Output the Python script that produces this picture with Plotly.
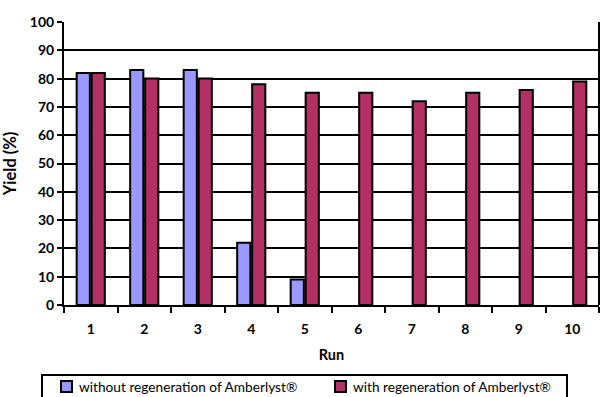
import plotly.graph_objects as go

runs = ["1", "2", "3", "4", "5", "6", "7", "8", "9", "10"]
without_regen = [82, 83, 83, 22, 9, None, None, None, None, None]
with_regen = [82, 80, 80, 78, 75, 75, 72, 75, 76, 79]
series_names = ["without regeneration of Amberlyst®", "with regeneration of Amberlyst®"]
series_colors = ["#9999FF", "#B23063"]

FONT = "Lato"
L, R, T, B = 64, 1, 22, 92
W, H = 600, 397
PW, PH = W - L - R, H - T - B


def px_x(px):
    return (px - L) / PW


def px_y(py):
    return (H - B - py) / PH


fig = go.Figure()
for name, vals, col in zip(series_names, [without_regen, with_regen], series_colors):
    fig.add_trace(go.Bar(
        x=runs, y=vals, name=name,
        marker=dict(color=col, line=dict(color="black", width=2)),
    ))

fig.update_layout(
    width=W, height=H,
    margin=dict(l=L, r=R, t=T, b=B, autoexpand=False),
    paper_bgcolor="white", plot_bgcolor="white",
    barmode="group", bargap=0.44, bargroupgap=0.12,
    font=dict(family=FONT, size=13, color="black"),
    showlegend=False,
)
fig.update_xaxes(
    type="category", showline=True, linecolor="black", linewidth=2,
    ticks="outside", tickcolor="black", ticklen=6, tickwidth=2,
    tickson="boundaries", ticklabelstandoff=10,
    tickfont=dict(family=FONT, size=14, color="black", weight="bold"),
    title=dict(text="<b>Run</b>", font=dict(family=FONT, size=14.5), standoff=14),
)
fig.update_yaxes(
    range=[0, 100], dtick=10, showline=True, linecolor="black", linewidth=2,
    showgrid=True, gridcolor="black", gridwidth=2, zeroline=False,
    ticks="outside", tickcolor="black", ticklen=5, tickwidth=2,
    tickfont=dict(family=FONT, size=14, color="black", weight="bold"),
    title=dict(text="<b>Yield (%)</b>", font=dict(family=FONT, size=16.5), standoff=9),
)
# right border of the plot area
fig.add_shape(type="line", xref="paper", yref="paper", x0=1, x1=1, y0=0, y1=1,
              line=dict(color="black", width=2))

# legend box below the chart
fig.add_shape(type="rect", xref="paper", yref="paper",
              x0=px_x(42), x1=px_x(567), y0=px_y(404), y1=px_y(375),
              line=dict(color="black", width=2), fillcolor="white", layer="above")
for (sx, tx), name, col in zip([(61, 77), (335, 351)], series_names, series_colors):
    fig.add_shape(type="rect", xref="paper", yref="paper",
                  x0=px_x(sx), x1=px_x(sx + 11), y0=px_y(392), y1=px_y(381),
                  line=dict(color="black", width=2), fillcolor=col, layer="above")
    fig.add_annotation(xref="paper", yref="paper", x=px_x(tx), y=px_y(386.5),
                       xanchor="left", yanchor="middle", showarrow=False,
                       text=name, font=dict(family=FONT, size=13.7, color="black"))

fig.write_html("out.html")
